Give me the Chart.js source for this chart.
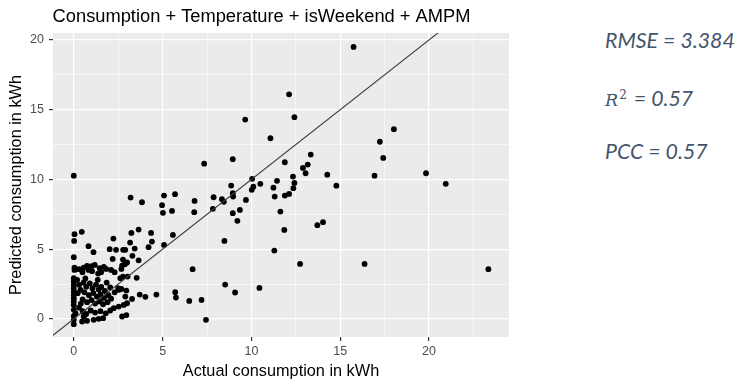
<!DOCTYPE html>
<html>
<head>
<meta charset="utf-8">
<script src="https://cdn.jsdelivr.net/npm/chart.js@4/dist/chart.umd.min.js"></script>
<style>
  body { margin: 0; background: #fff; width: 740px; height: 384px; overflow: hidden; position: relative; }
  #wrap { position: absolute; left: 0; top: 0; width: 520px; height: 384px; }
  .stat { position: absolute; left: 605px; font-family: Lato, "Open Sans", sans-serif; font-style: italic;
          font-size: 21.3px; line-height: 21.3px; color: #44546A; white-space: nowrap; }
  .stat .r { font-family: "DejaVu Serif", serif; font-style: italic; font-size: 17.5px; }
  .stat sup { font-family: "DejaVu Serif", serif; font-style: normal; font-size: 12px; vertical-align: 7px; margin-left: 1px; margin-right: 2px; }
</style>
</head>
<body>
<div id="wrap"><canvas id="fitChart" width="520" height="384"></canvas></div>
<div class="stat" style="top:30px">RMSE = 3.384</div>
<div class="stat" style="top:85px"><span class="r">R</span><sup>2</sup> = 0.57</div>
<div class="stat" style="top:141px">PCC = 0.57</div>
<script>
// actual vs predicted consumption (kWh)
const actual = [
  15.75, 12.12, 12.42, 11.07, 18.02, 17.23, 17.42, 13.34, 11.88, 13.17, 12.9, 13.05, 12.34, 14.27, 16.93, 19.83,
  10.04, 10.5, 11.44, 12.42, 20.94, 14.78, 10.11, 10.02, 11.24, 12.36, 11.31, 11.88, 12.12, 11.63, 13.71, 14.03,
  11.85, 11.29, 12.74, 16.37, 10.45, 23.34,
  6.8, 6.78, 7.87, 7.83, 8.34, 8.45, 8.86, 8.95, 8.97, 8.95, 9.35, 9.21, 9.69, 8.48, 6.69, 8.52, 9.08, 7.19, 6.5,
  7.44, 5.71, 5.75, 4.65, 0, 7.34, 8.95, 9.65,
  3.2, 3.84, 5.08, 5.7, 4.97, 5.02, 5.53, 3.24, 3.65, 4.35, 4.4, 4.21, 3.17, 3.43, 2.9, 5.58, 5.08, 3.3, 3.0, 3.65,
  3.54, 2.96, 3.28, 3.71, 4.03, 2.96, 2.9,
  0.04, 0.45, 0.02, 0.83, 2.23, 2.02, 2.38, 2.78,
  1.11, 2.19, 2.77, 0, 0.04, 0.04, 0.3, 0.56, 0.75, 1.0, 1.18, 0.49, 0.83, 1.03, 1.46, 1.69, 1.82, 1.37, 1.54, 2.1,
  2.3, 2.72, 2.87, 2.68, 2.62, 2.77, 3.03, 0, 0, 0, 0, 0, 0, 0, 0, 0, 0, 0.19, 0.3, 0.38, 0.22,
  0.55, 0.7, 0.9, 1.05, 1.25, 1.4, 1.55, 1.75, 0.6, 0.85, 1.1, 1.3, 1.5, 1.7, 1.95, 0.5, 0.75, 1.0, 1.2, 1.45, 1.65,
  1.9, 2.1, 0.65, 1.35, 1.85, 2.05, 2.3, 2.5, 0.4, 0.3,
  0.5, 0.7, 0.95, 1.2, 1.5, 1.8, 2.05, 0.47, 0.75, 1.12, 1.4, 2.25, 2.53, 2.81, 3.0, 2.72, 0, 0, 0, 0.1, 1.65, 0.56,
  2.55, 2.68
];
const predicted = [
  19.5, 16.1, 14.46, 12.95, 13.6, 12.7, 11.54, 11.78, 11.23, 11.06, 10.82, 10.44, 10.2, 10.34, 10.27, 10.44,
  10.04, 9.68, 9.9, 9.75, 9.68, 9.55, 9.48, 9.25, 9.41, 9.37, 8.77, 8.84, 8.96, 7.69, 6.72, 6.93,
  6.38, 4.9, 3.94, 3.94, 2.22, 3.56,
  8.46, 7.65, 8.72, 7.89, 8.58, 8.39, 9.56, 9.01, 8.77, 7.58, 7.81, 7.03, 8.53, 5.59, 3.56, 2.46, 1.89, 1.36, 1.29,
  -0.07, 1.91, 1.53, 1.74, 10.27, 11.13, 11.45, 14.29,
  8.7, 8.36, 8.84, 8.94, 8.15, 7.6, 7.74, 6.16, 6.4, 6.16, 5.54, 5.14, 5.47, 5.04, 4.95, 6.02, 5.3, 4.52, 4.04, 4.2,
  2.94, 2.03, 1.43, 1.74, 1.58, 0.27, 1.6,
  6.07, 6.24, 5.59, 5.21, 5.76, 5.0, 4.95, 4.95,
  4.78, 4.3, 4.25, 4.42, 3.68, 3.51, 3.56, 3.68, 3.8, 3.78, 3.87, 3.35, 3.51, 3.42, 3.63, 3.73, 3.58, 3.25, 3.35, 3.51,
  3.35, 3.82, 3.92, 3.58, 2.92, 3.03, 3.03, 2.92, 2.68, 2.44, 2.2, 1.96, 1.72, 1.48, 1.24, 1.0, 0.65, 2.8, 2.44, 2.08, 1.84,
  2.6, 2.3, 2.55, 2.2, 2.45, 2.1, 2.3, 2.0, 1.9, 1.7, 1.85, 1.6, 1.75, 1.5, 1.7, 1.4, 1.2, 1.35, 1.1, 1.25, 1.05,
  1.2, 1.45, 2.9, 2.8, 2.6, 2.25, 1.9, 2.2, 1.1, 0.8,
  0.55, 0.35, 0.6, 0.45, 0.55, 0.4, 0.6, -0.19, -0.14, -0.07, 0.0, 0.77, 0.88, 1.0, 1.12, 0.17, -0.07, -0.38, 0.2, 0.4, 0.05, 0.17,
  2.08, 2.15
];
// y = x reference line
const identityLine = [-2, 26];

const xMajor = [0, 5, 10, 15, 20];
const xGrid = [0, 2.5, 5, 7.5, 10, 12.5, 15, 17.5, 20, 22.5];
const yMajor = [0, 5, 10, 15, 20];
const yGrid = [0, 2.5, 5, 7.5, 10, 12.5, 15, 17.5, 20];

const points = actual.map((a, i) => ({ x: a, y: predicted[i] }));
const linePts = identityLine.map(v => ({ x: v, y: v }));

const FONT = '"Liberation Sans", Arial, sans-serif';

function gridStyle(major) {
    return {
        color: '#ffffff',
        lineWidth: c => major.includes(c.tick.value) ? 1.2 : 0.6,
        tickColor: c => major.includes(c.tick.value) ? '#333333' : 'rgba(0,0,0,0)',
        tickLength: 4,
        drawTicks: true
    };
}

new Chart(document.getElementById('fitChart'), {
    type: 'scatter',
    data: {
        datasets: [
            {
                type: 'line',
                data: linePts,
                borderColor: '#3d3d3d',
                borderWidth: 1.1,
                pointRadius: 0,
                clip: 0,
                order: 0
            },
            {
                data: points,
                backgroundColor: '#000000',
                borderWidth: 0,
                pointRadius: 2.9,
                order: 1
            }
        ]
    },
    options: {
        responsive: false,
        animation: false,
        // left padding keeps the title centred over the ggplot-style layout
        layout: { padding: { left: 14, right: 11, top: 0, bottom: 0 } },
        plugins: {
            legend: { display: false },
            tooltip: { enabled: false },
            title: {
                display: true,
                text: 'Consumption + Temperature + isWeekend + AMPM',
                color: '#000000',
                font: { family: FONT, size: 18.3, weight: 'normal', lineHeight: 1.2 },
                padding: { top: 5.5, bottom: 5.5 }
            }
        },
        scales: {
            x: {
                type: 'linear',
                min: -1.17,
                max: 24.5,
                afterBuildTicks: a => { a.ticks = xGrid.map(v => ({ value: v })); },
                afterFit: a => { a.height = 47; },
                grid: gridStyle(xMajor),
                border: { display: false },
                ticks: {
                    color: '#4d4d4d',
                    padding: 3,
                    font: { family: FONT, size: 12.5 },
                    callback: v => xMajor.includes(v) ? String(v) : ''
                },
                title: {
                    display: true,
                    text: 'Actual consumption in kWh',
                    color: '#000000',
                    font: { family: FONT, size: 16.3 },
                    padding: { top: 0, bottom: 2.5 }
                }
            },
            y: {
                type: 'linear',
                min: -1.3,
                max: 20.5,
                afterBuildTicks: a => { a.ticks = yGrid.map(v => ({ value: v })); },
                afterFit: a => { a.width = 39; },
                grid: gridStyle(yMajor),
                border: { display: false },
                ticks: {
                    color: '#4d4d4d',
                    padding: 5,
                    font: { family: FONT, size: 12.5 },
                    callback: v => yMajor.includes(v) ? String(v) : ''
                },
                title: {
                    display: true,
                    text: 'Predicted consumption in kWh',
                    color: '#000000',
                    font: { family: FONT, size: 16.3, lineHeight: 0.3 },
                    padding: { top: 0.5, bottom: 0 }
                }
            }
        }
    },
    plugins: [{
        id: 'panelBg',
        beforeDraw(chart) {
            const { ctx, chartArea: a } = chart;
            ctx.save();
            ctx.fillStyle = '#ebebeb';
            ctx.fillRect(a.left, a.top, a.right - a.left, a.bottom - a.top);
            ctx.restore();
        }
    }]
});
</script>
</body>
</html>
